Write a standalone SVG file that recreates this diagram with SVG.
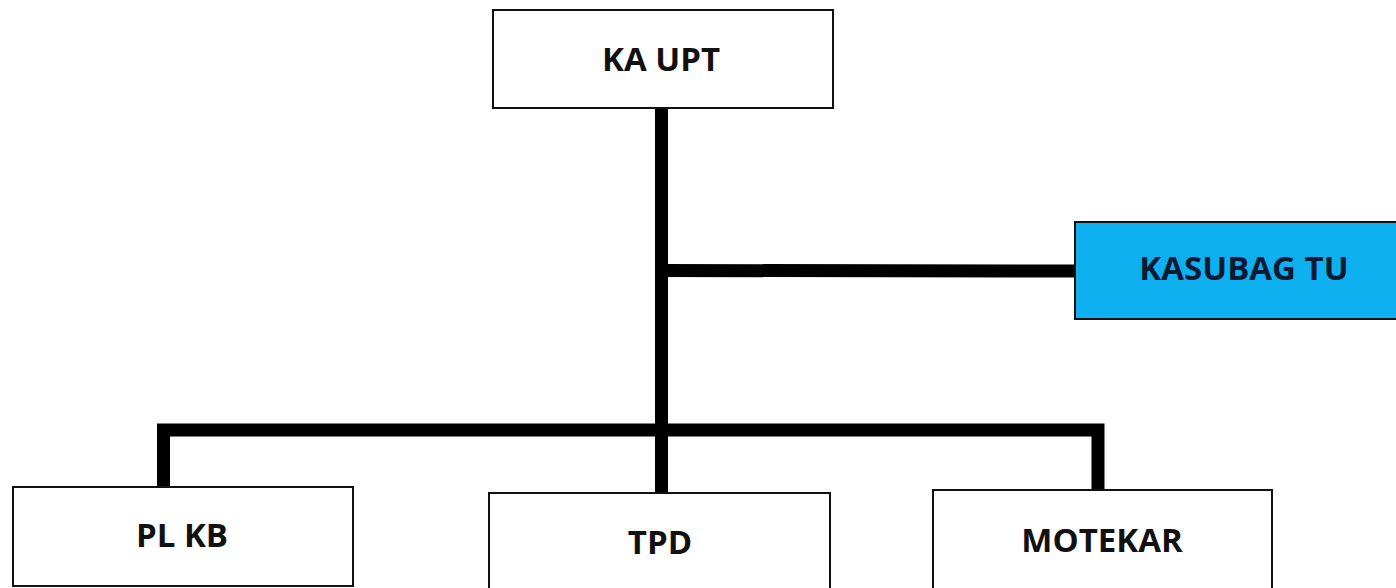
<svg xmlns="http://www.w3.org/2000/svg" width="1396" height="588" viewBox="0 0 1396 588">
<style>
.box{fill:#fff;stroke:#111;stroke-width:2}
.blue{fill:#0fb0ef;stroke:#111;stroke-width:2}
.lbl{font-family:"Open Sans","Liberation Sans",sans-serif;font-weight:bold;font-size:33px;fill:#111;text-anchor:middle}
.lblb{fill:#0a1a33}
.conn{stroke:#000;stroke-width:13;fill:none;stroke-linecap:square}
</style>
<rect width="1396" height="588" fill="#fff"/>
<g id="connectors">
<line class="conn" x1="661.5" y1="110" x2="661.5" y2="487"/>
<line class="conn" x1="661.5" y1="270.5" x2="1070" y2="271"/>
<polyline class="conn" points="163.5,486 163.5,430 1098,430 1098,484"/>
</g>
<g id="ka-upt">
<rect class="box" x="493" y="10" width="340" height="98"/>
<text class="lbl" x="661" y="71">KA UPT</text>
</g>
<g id="kasubag-tu">
<rect class="blue" x="1075" y="222" width="322" height="97"/>
<text class="lbl lblb" x="1244" y="280">KASUBAG TU</text>
</g>
<g id="pl-kb">
<rect class="box" x="13" y="487" width="340" height="99"/>
<text class="lbl" x="182" y="547">PL KB</text>
</g>
<g id="tpd">
<rect class="box" x="489" y="493" width="341" height="100"/>
<text class="lbl" x="660" y="554">TPD</text>
</g>
<g id="motekar">
<rect class="box" x="933" y="490" width="339" height="103"/>
<text class="lbl" x="1102" y="552">MOTEKAR</text>
</g>
</svg>
